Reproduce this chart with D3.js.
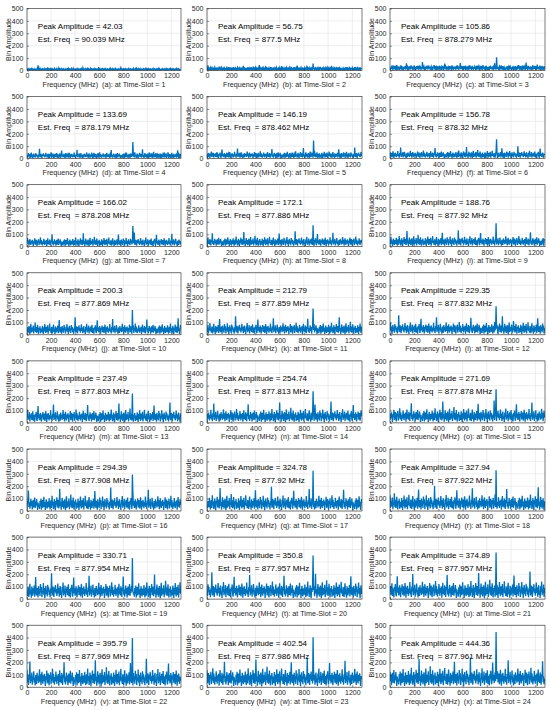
<!DOCTYPE html>
<html>
<head>
<meta charset="utf-8">
<script src="https://cdn.jsdelivr.net/npm/d3@7"></script>
<style>
body { margin: 0; background: #fff; }
text { font-family: "Liberation Sans", Arial, sans-serif; }
</style>
</head>
<body>
<svg id="chart" width="550" height="710"></svg>
<script>
// one panel per time slot
const slotLetters = ["a","b","c","d","e","f","g","h","i","j","k","l","m","n","o","p","q","r","s","t","u","v","w","x"];
const peakAmplitudes = [42.03, 56.75, 105.86, 133.69, 146.19, 156.78, 166.02, 172.1, 188.76, 200.3, 212.79, 229.35,
    237.49, 254.74, 271.69, 294.39, 324.78, 327.94, 330.71, 350.8, 374.89, 395.79, 402.54, 444.36];
const estFreqs = [90.039, 877.5, 878.279, 878.179, 878.462, 878.32, 878.208, 877.886, 877.92, 877.869, 877.859, 877.832,
    877.803, 877.813, 877.878, 877.908, 877.92, 877.922, 877.954, 877.957, 877.957, 877.969, 877.986, 877.961];
// noise floor level read per panel (scales the noise shape below)
const noiseLevels = [20, 32, 50, 58, 66, 73, 85, 92, 98, 104, 110, 116, 122, 128, 134, 140, 145, 150, 155, 160, 165, 170, 174, 178];
// noise shape, % of level, one value per 4 MHz bin
const noiseShape = [
    34,12,58,27,71,8,45,63,19,38,82,24,51,6,39,67,29,14,55,41,
    22,73,35,9,48,61,17,88,31,53,11,42,69,26,5,57,36,79,20,46,
    64,15,33,128,28,50,7,44,76,23,59,13,37,68,30,4,52,85,18,40,
    56,25,72,10,47,34,95,21,60,16,43,77,27,8,54,38,66,12,49,31,
    19,70,41,6,58,26,83,35,14,62,45,22,74,9,51,32,87,28,44,15,
    61,37,11,53,80,24,47,7,65,39,18,56,29,71,13,48,115,33,20,59,
    42,8,67,27,52,16,78,36,63,10,45,31,84,23,57,5,40,69,26,50,
    14,75,38,61,21,46,9,55,32,135,18,43,66,25,11,60,37,73,29,52,
    17,44,81,30,57,12,49,68,22,39,6,63,35,86,19,47,28,71,10,54,
    33,64,20,45,77,15,52,36,8,59,41,74,24,13,50,112,31,56,18,42,
    67,27,9,55,38,72,21,48,62,14,34,79,43,7,58,26,65,40,16,51,
    30,83,23,46,11,60,37,122,19,53,28,70,12,49,35,76,22,44,8,57,
    39,15,68,31,54,20,47,85,26,61,10,42,73,33,17,56,29,64,45,6,
    52,36,79,18,43,66,24,9,58,40,71,14,50,32,88,21,63,37,12,48,
    27,74,41,16,55,30,62,7,46,80,25,53,19,67,35,11,59,44,118,23,
    50,13,38,70,28,57,9,45,65,21,36,78,17,54,31,69,40,6,48,26
];
const binWidth = 4;
const xTicks = [0, 200, 400, 600, 800, 1000, 1200];
const yTicks = [0, 100, 200, 300, 400, 500];

const colLeft = [27, 207, 390],
    colWidth = [154, 155, 155],
    rowTop = 8.5, rowStep = 88.1, plotH = 62;

const svg = d3.select("#chart");
const defs = svg.append("defs");

slotLetters.forEach(function(letter, k) {
    const col = k % 3, row = Math.floor(k / 3);
    const left = colLeft[col], top = rowTop + row * rowStep, w = colWidth[col];

    const x = d3.scaleLinear().domain([0, 1280]).range([0, w]);
    const y = d3.scaleLinear().domain([0, 500]).range([plotH, 0]);

    // spectrum for this slot
    const n = noiseShape.length;
    const data = noiseShape.map(function(_, i) {
        return { f: i * binWidth, v: noiseShape[(i + k * 41) % n] * noiseLevels[k] / 100 };
    });
    data[Math.round(estFreqs[k] / binWidth)].v = peakAmplitudes[k];

    const g = svg.append("g").attr("transform", "translate(" + left + "," + top + ")");

    defs.append("clipPath").attr("id", "clip" + k)
        .append("rect").attr("width", w).attr("height", plotH);

    // grid
    g.append("g").selectAll("line").data(xTicks).enter().append("line")
        .attr("x1", d => x(d)).attr("x2", d => x(d))
        .attr("y1", 0).attr("y2", plotH)
        .attr("stroke", "#e3e3e3").attr("stroke-width", 0.6);
    g.append("g").selectAll("line").data(yTicks).enter().append("line")
        .attr("x1", 0).attr("x2", w)
        .attr("y1", d => y(d)).attr("y2", d => y(d))
        .attr("stroke", "#e3e3e3").attr("stroke-width", 0.6);

    const line = d3.line().x(d => x(d.f)).y(d => y(d.v));
    g.append("path").datum(data)
        .attr("clip-path", "url(#clip" + k + ")")
        .attr("d", line)
        .attr("fill", "none")
        .attr("stroke", "#0072BD")
        .attr("stroke-width", 1.3);

    // axes
    const xAxis = d3.axisBottom(x).tickValues(xTicks).tickFormat(d3.format("d")).tickSize(-2).tickPadding(3);
    const yAxis = d3.axisLeft(y).tickValues(yTicks).tickFormat(d3.format("d")).tickSize(-2).tickPadding(3.5);
    const gx = g.append("g").attr("transform", "translate(0," + plotH + ")").call(xAxis);
    const gy = g.append("g").call(yAxis);
    [gx, gy].forEach(function(a) {
        a.select(".domain").remove();
        a.selectAll("line").attr("stroke", "#262626").attr("stroke-width", 0.5);
        a.selectAll("text").attr("fill", "#262626").style("font-size", "7px");
    });
    gx.selectAll("text").attr("y", 3).attr("dy", "0.71em");
    g.append("rect").attr("width", w).attr("height", plotH)
        .attr("fill", "none").attr("stroke", "#262626").attr("stroke-width", 0.6);

    // labels
    g.append("text")
        .attr("x", w / 2).attr("y", plotH + 16.5)
        .attr("text-anchor", "middle")
        .attr("fill", "#262626")
        .style("font-size", "7.2px")
        .style("white-space", "pre")
        .text("Frequency (MHz)  (" + letter + "): at Time-Slot = " + (k + 1));
    g.append("text")
        .attr("transform", "translate(-16," + (plotH / 2) + ") rotate(-90)")
        .attr("text-anchor", "middle")
        .attr("fill", "#262626")
        .style("font-size", "7px")
        .text("Bin Amplitude");

    g.append("text")
        .attr("x", x(90)).attr("y", 20.5)
        .style("font-size", "8px")
        .style("white-space", "pre")
        .text("Peak Amplitude = " + peakAmplitudes[k]);
    g.append("text")
        .attr("x", x(90)).attr("y", 33.5)
        .style("font-size", "8px")
        .style("white-space", "pre")
        .text("Est. Freq  = " + estFreqs[k] + " MHz");
});
</script>
</body>
</html>
